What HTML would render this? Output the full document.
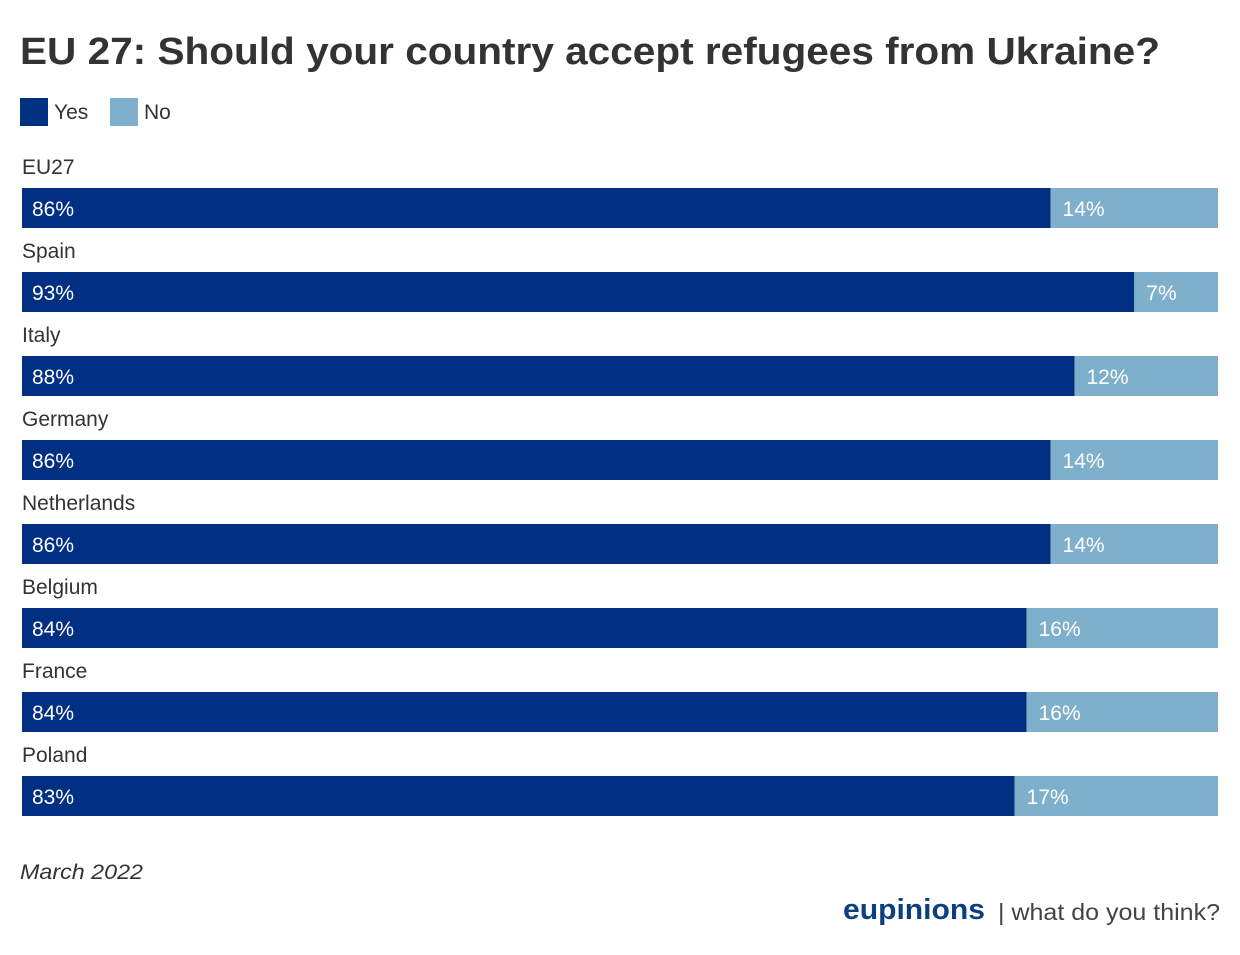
<!DOCTYPE html>
<html><head><meta charset="utf-8"><style>
body{margin:0;background:#fff;width:1240px;height:950px;overflow:hidden;font-family:"Liberation Sans",sans-serif;}
svg text{font-family:"Liberation Sans",sans-serif;}
</style></head><body>
<svg id="chart" width="1240" height="950">
<text x="20" y="64" font-size="38" font-weight="bold" fill="#333" textLength="1140" lengthAdjust="spacingAndGlyphs">EU 27: Should your country accept refugees from Ukraine?</text>
<g>
<rect x="20" y="98" width="28" height="28" fill="#012f82"/>
<text x="54" y="119" font-size="21" fill="#333">Yes</text>
<rect x="110" y="98" width="28" height="28" fill="#7fb0cb"/>
<text x="144" y="119" font-size="21" fill="#333">No</text>
</g>
<g id="bars"></g>
<text x="20" y="879" font-size="21" font-style="italic" fill="#333" textLength="123" lengthAdjust="spacingAndGlyphs">March 2022</text>
<text x="843" y="919" font-size="29" font-weight="bold" fill="#0b3f80" textLength="142" lengthAdjust="spacingAndGlyphs">eupinions</text>
<text x="998" y="920" font-size="23" fill="#444" textLength="222" lengthAdjust="spacingAndGlyphs">| what do you think?</text>
</svg>
<script>
const categories=["EU27","Spain","Italy","Germany","Netherlands","Belgium","France","Poland"];
const yesValues=[86,93,88,86,86,84,84,83];
const noValues=[14,7,12,14,14,16,16,17];
const x0=22,W=1196,top0=188,step=84,bh=40;
const xs=v=>v/100*W;
const g=document.getElementById('bars');
const NS='http://www.w3.org/2000/svg';
function mk(t,a){const e=document.createElementNS(NS,t);for(const k in a)e.setAttribute(k,a[k]);return e;}
categories.forEach((c,i)=>{
 const y=top0+i*step;
 const lab=mk('text',{x:22,y:y-14,'font-size':21,fill:'#333'});lab.textContent=c;
 
 
 g.appendChild(lab);
 const wy=xs(yesValues[i]);
 const r1=mk('rect',{x:x0,y:y,width:wy,height:bh,fill:'#012f82'});
 
 
 g.appendChild(r1);
 const r2=mk('rect',{x:x0+wy,y:y,width:xs(noValues[i]),height:bh,fill:'#7fb0cb'});
 
 
 g.appendChild(r2);
 const t1=mk('text',{x:x0+10,y:y+28,'font-size':21,fill:'#fff'});t1.textContent=yesValues[i]+'%';
 
 
 g.appendChild(t1);
 const t2=mk('text',{x:x0+wy+12,y:y+28,'font-size':21,fill:'#fff'});t2.textContent=noValues[i]+'%';
 
 
 g.appendChild(t2);
});
</script>
</body></html>
